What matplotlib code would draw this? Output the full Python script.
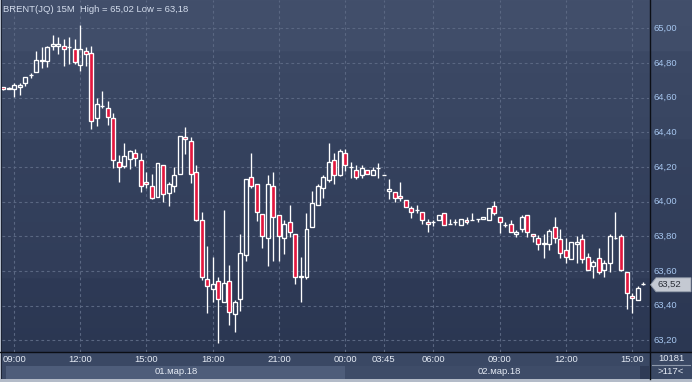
import matplotlib
matplotlib.use("Agg")
import matplotlib.pyplot as plt
import numpy as np
from matplotlib.patches import Rectangle, Polygon

# ---------------- data ----------------
title = "BRENT(JQ) 15M  High = 65,02 Low = 63,18"
opens = [64.660, 64.650, 64.650, 64.661, 64.687, 64.729, 64.746, 64.810, 64.810, 64.896,
         64.896, 64.896, 64.890, 64.879, 64.787, 64.867, 64.856, 64.481, 64.552, 64.539,
         64.481, 64.227, 64.208, 64.248, 64.281, 64.239, 64.112, 64.089, 64.029, 64.210,
         64.048, 64.089, 64.158, 64.371, 64.348, 64.169, 63.892, 63.554, 63.498, 63.540,
         63.419, 63.540, 63.350, 63.440, 63.690, 64.141, 64.100, 63.931, 63.789, 64.089,
         63.921, 63.789, 63.881, 63.812, 63.564, 63.567, 63.852, 63.979, 64.081, 64.127,
         64.239, 64.156, 64.281, 64.198, 64.181, 64.152, 64.181, 64.152, 64.196, 64.152,
         64.060, 64.058, 64.033, 64.008, 63.964, 63.954, 63.939, 63.883, 63.881, 63.896,
         63.933, 63.869, 63.885, 63.864, 63.892, 63.894, 63.898, 63.898, 63.896, 63.973,
         63.912, 63.867, 63.871, 63.814, 63.840, 63.923, 63.814, 63.790, 63.758, 63.754,
         63.854, 63.785, 63.719, 63.671, 63.758, 63.785, 63.679, 63.631, 63.675, 63.604,
         63.644, 63.789, 63.802, 63.592, 63.458, 63.431, 63.527]
highs = [64.664, 64.664, 64.683, 64.683, 64.721, 64.742, 64.869, 64.890, 64.898, 64.962,
         64.950, 64.939, 64.950, 64.939, 65.019, 64.892, 64.898, 64.598, 64.639, 64.581,
         64.512, 64.269, 64.339, 64.298, 64.304, 64.281, 64.173, 64.160, 64.221, 64.210,
         64.115, 64.200, 64.377, 64.431, 64.371, 64.212, 63.942, 63.744, 63.683, 63.567,
         63.952, 63.635, 63.433, 63.814, 64.129, 64.281, 64.100, 63.931, 64.154, 64.169,
         63.921, 63.894, 63.981, 63.812, 63.681, 63.933, 64.062, 64.100, 64.154, 64.339,
         64.281, 64.304, 64.302, 64.231, 64.212, 64.210, 64.181, 64.202, 64.221, 64.152,
         64.131, 64.058, 64.114, 64.008, 63.977, 63.981, 63.939, 63.900, 63.894, 63.923,
         63.933, 63.900, 63.900, 63.900, 63.914, 63.935, 63.898, 63.912, 63.964, 64.006,
         63.912, 63.885, 63.894, 63.838, 63.923, 63.923, 63.814, 63.808, 63.814, 63.842,
         63.914, 63.842, 63.789, 63.769, 63.800, 63.814, 63.704, 63.664, 63.731, 63.664,
         63.814, 63.940, 63.814, 63.592, 63.471, 63.515, 63.538]
lows = [64.646, 64.648, 64.606, 64.615, 64.669, 64.715, 64.746, 64.770, 64.779, 64.877,
        64.850, 64.785, 64.796, 64.796, 64.756, 64.785, 64.417, 64.439, 64.539, 64.444,
        64.196, 64.115, 64.192, 64.189, 64.208, 64.058, 64.081, 64.015, 64.029, 64.000,
        63.977, 64.058, 64.158, 64.277, 64.110, 63.889, 63.548, 63.360, 63.419, 63.183,
        63.419, 63.289, 63.250, 63.371, 63.658, 64.081, 63.890, 63.731, 63.631, 63.660,
        63.660, 63.700, 63.798, 63.523, 63.419, 63.552, 63.852, 63.979, 64.019, 64.115,
        64.100, 64.148, 64.177, 64.139, 64.129, 64.139, 64.158, 64.152, 64.139, 64.152,
        64.017, 64.000, 64.004, 63.971, 63.908, 63.937, 63.869, 63.827, 63.862, 63.896,
        63.864, 63.869, 63.866, 63.864, 63.869, 63.894, 63.881, 63.898, 63.896, 63.923,
        63.821, 63.852, 63.823, 63.798, 63.827, 63.798, 63.769, 63.721, 63.677, 63.721,
        63.760, 63.677, 63.644, 63.671, 63.646, 63.644, 63.604, 63.562, 63.581, 63.567,
        63.592, 63.785, 63.600, 63.381, 63.360, 63.431, 63.517]
closes = [64.650, 64.658, 64.671, 64.671, 64.717, 64.729, 64.815, 64.819, 64.890, 64.908,
          64.908, 64.879, 64.890, 64.808, 64.879, 64.850, 64.467, 64.562, 64.552, 64.487,
          64.239, 64.198, 64.262, 64.290, 64.250, 64.089, 64.100, 64.019, 64.221, 64.042,
          64.100, 64.152, 64.377, 64.360, 64.158, 63.896, 63.567, 63.512, 63.523, 63.440,
          63.531, 63.362, 63.419, 63.704, 64.129, 64.089, 63.939, 63.800, 64.100, 63.910,
          63.800, 63.869, 63.823, 63.564, 63.573, 63.840, 63.990, 64.089, 64.141, 64.229,
          64.152, 64.290, 64.210, 64.198, 64.141, 64.192, 64.158, 64.181, 64.196, 64.152,
          64.073, 64.019, 64.019, 63.971, 63.939, 63.954, 63.894, 63.871, 63.881, 63.923,
          63.864, 63.869, 63.885, 63.900, 63.883, 63.894, 63.898, 63.912, 63.964, 63.933,
          63.881, 63.867, 63.823, 63.825, 63.912, 63.823, 63.802, 63.754, 63.762, 63.829,
          63.789, 63.702, 63.679, 63.769, 63.769, 63.671, 63.608, 63.652, 63.592, 63.644,
          63.802, 63.789, 63.606, 63.471, 63.442, 63.504, 63.527]
time_tick_idx = [2, 14, 26, 38, 50, 62, 69, 78, 90, 102, 114]
time_tick_labels = ["09:00", "12:00", "15:00", "18:00", "21:00", "00:00", "03:45",
                    "06:00", "09:00", "12:00", "15:00"]
price_ticks = [65.00, 64.80, 64.60, 64.40, 64.20, 64.00, 63.80, 63.60, 63.40, 63.20]
date_labels = ["01.мар.18", "02.мар.18"]
last_price = 63.52
bar_count_label = "10181"
visible_label = ">117<"

# ---------------- layout ----------------
W, H = 692, 382
fig = plt.figure(figsize=(W / 100, H / 100), dpi=100)
fig.patch.set_facecolor('#3a4763')
FONT = ['Liberation Sans', 'DejaVu Sans']

PLOT_BOTTOM = 352
X0, DX = 3.0, 5.518          # pixel of bar 0, pixels per bar
Y65, PPU = 28.3, 173.3       # pixel of 65.00, pixels per price unit


def price_to_px(p):
    return Y65 + (65.0 - p) * PPU


# background axes in pixel coordinates
bg = fig.add_axes([0, 0, 1, 1])
bg.set_xlim(0, W)
bg.set_ylim(H, 0)
bg.axis('off')

stops_y = [0, 50, 51, 138, 139, 277, 278, PLOT_BOTTOM]
stops_c = [(66, 79, 107), (64, 77, 105), (60, 73, 101), (56, 69, 97),
           (53, 66, 94), (49, 61, 89), (46, 58, 86), (43, 55, 82)]
rows = np.arange(PLOT_BOTTOM)
grad = np.zeros((PLOT_BOTTOM, 1, 3))
for k in range(3):
    grad[:, 0, k] = np.interp(rows, stops_y, [c[k] for c in stops_c]) / 255.0
bg.imshow(grad, extent=(0, W, PLOT_BOTTOM, 0), aspect='auto', zorder=0,
          interpolation='nearest')

# bottom strip
bg.add_patch(Rectangle((0, PLOT_BOTTOM), W, H - PLOT_BOTTOM, facecolor='#3a4864',
                       edgecolor='none', zorder=1))
bg.add_patch(Rectangle((6, 366), 339, 13, facecolor='#4e5d7a', edgecolor='none', zorder=2))
bg.add_patch(Rectangle((345, 366), 295, 13, facecolor='#3e4c68', edgecolor='none', zorder=2))
bg.add_patch(Rectangle((640, 366), 9, 13, facecolor='#2f3b56', edgecolor='none', zorder=2))
# borders
bg.add_patch(Rectangle((0, 379), W, 3, facecolor='#b3bbc8', edgecolor='none', zorder=3))
bg.add_patch(Rectangle((0, 0), 1.2, H, facecolor='#b3bbc8', edgecolor='none', zorder=3))
bg.add_patch(Rectangle((1.2, 0), 1.0, 379, facecolor='#1d2434', edgecolor='none', zorder=3))
# separators
bg.plot([649.5, 649.5], [0, 379], color='#0b0e15', lw=1.0, zorder=4)
bg.plot([0, W], [352, 352], color='#0b0e15', lw=1.0, zorder=4)
bg.plot([652, 690], [364.5, 364.5], color='#8d98ab', lw=0.8, zorder=4)

# price tag
py = price_to_px(last_price)
bg.add_patch(Polygon([(650.5, py), (656, py - 7), (691, py - 7), (691, py + 7), (656, py + 7)],
                     closed=True, facecolor='#c4c9d2', edgecolor='#9099a8', lw=0.6, zorder=5))

# ---------------- main candlestick axes ----------------
ax = fig.add_axes([2.2 / W, 1 - PLOT_BOTTOM / H, (649 - 2.2) / W, PLOT_BOTTOM / H])
ax.patch.set_alpha(0)
ax.set_xlim((2.2 - X0) / DX, (649 - X0) / DX)
ax.set_ylim(65.0 - (PLOT_BOTTOM - Y65) / PPU, 65.0 + Y65 / PPU)
for s in ax.spines.values():
    s.set_visible(False)
ax.set_xticks([])
ax.set_yticks([])

grid_kw = dict(color='#5a6782', lw=0.8, linestyle=(0, (2.5, 2.5)), zorder=1)
for p in price_ticks:
    ax.axhline(p, **grid_kw)
for t in time_tick_idx:
    ax.axvline(t, **grid_kw)

RED = '#e3173e'
BW = 0.72
LW = 0.95
for i, (o, h, l, c) in enumerate(zip(opens, highs, lows, closes)):
    top, bot = max(o, c), min(o, c)
    if h > top:
        ax.plot([i, i], [top, h], color='white', lw=LW, zorder=3, solid_capstyle='butt')
    if l < bot:
        ax.plot([i, i], [l, bot], color='white', lw=LW, zorder=3, solid_capstyle='butt')
    if top - bot < 0.003:
        ax.plot([i - BW / 2, i + BW / 2], [o, o], color='white', lw=LW, zorder=4,
                solid_capstyle='butt')
    else:
        fc = RED if c < o else 'none'
        ax.add_patch(Rectangle((i - BW / 2, bot), BW, top - bot, facecolor=fc,
                               edgecolor='white', lw=LW, zorder=4))

# ---------------- texts ----------------
def ftext(x, y, s, **kw):
    fig.text(x / W, 1 - y / H, s, family=FONT, **kw)

ftext(3, 10, title, fontsize=6.8, color='#d3dcec', ha='left', va='center')

for p in price_ticks:
    ftext(653, price_to_px(p), f"{p:.2f}".replace('.', ','), fontsize=6.8,
          color='#a6c6ef', ha='left', va='center')
ftext(657, py, f"{last_price:.2f}".replace('.', ','), fontsize=6.8, color='#2b2f38',
      ha='left', va='center')

for t, lab in zip(time_tick_idx, time_tick_labels):
    ftext(X0 + DX * t, 359.5, lab, fontsize=6.8, color='#e4eaf4', ha='center', va='center')

ftext(176, 372, date_labels[0], fontsize=6.8, color='#e4eaf4', ha='center', va='center')
ftext(499, 372, date_labels[1], fontsize=6.8, color='#e4eaf4', ha='center', va='center')
ftext(671, 358.5, bar_count_label, fontsize=6.8, color='#e4eaf4', ha='center', va='center')
ftext(671, 372, visible_label, fontsize=6.8, color='#e4eaf4', ha='center', va='center')

fig.savefig('out.png', dpi=100)
